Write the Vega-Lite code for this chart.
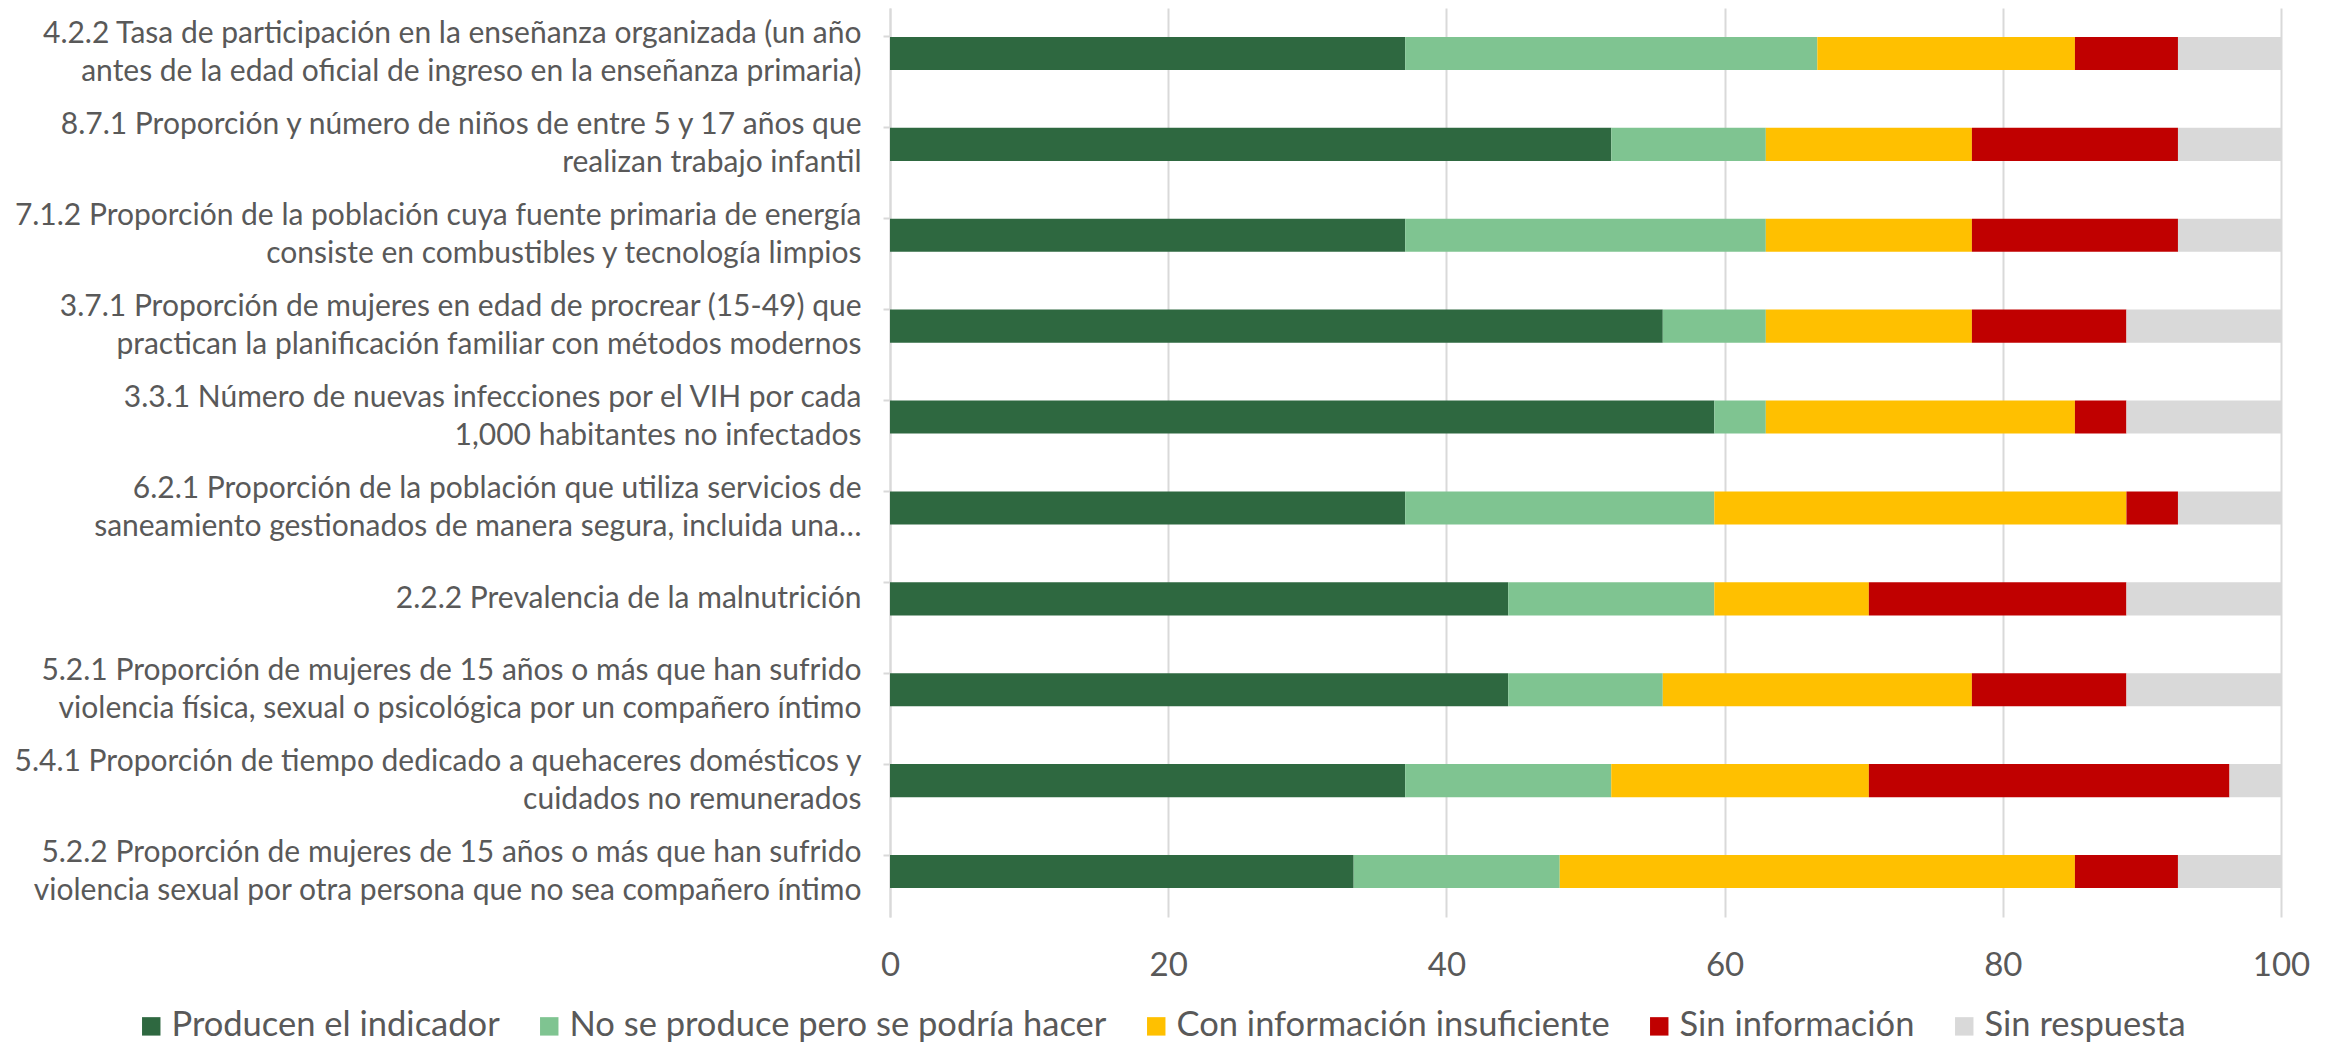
{
  "$schema": "https://vega.github.io/schema/vega-lite/v6.json",
  "autosize": {"type": "none"},
  "width": 1391,
  "height": 909,
  "padding": {"left": 890, "top": 8, "right": 55, "bottom": 125},
  "background": "white",
  "config": {
    "view": {"stroke": null},
    "font": "Lato",
    "axis": {"labelFont": "Lato", "labelColor": "#595959"},
    "legend": {"labelFont": "Lato", "labelColor": "#595959"}
  },
  "data": {
    "values": [
      {"i": "4.2.2 Tasa de participación en la enseñanza organizada (un año|antes de la edad oficial de ingreso en la enseñanza primaria)", "c": "Producen el indicador", "v": 37.037},
      {"i": "4.2.2 Tasa de participación en la enseñanza organizada (un año|antes de la edad oficial de ingreso en la enseñanza primaria)", "c": "No se produce pero se podría hacer", "v": 29.630},
      {"i": "4.2.2 Tasa de participación en la enseñanza organizada (un año|antes de la edad oficial de ingreso en la enseñanza primaria)", "c": "Con información insuficiente", "v": 18.519},
      {"i": "4.2.2 Tasa de participación en la enseñanza organizada (un año|antes de la edad oficial de ingreso en la enseñanza primaria)", "c": "Sin información", "v": 7.407},
      {"i": "4.2.2 Tasa de participación en la enseñanza organizada (un año|antes de la edad oficial de ingreso en la enseñanza primaria)", "c": "Sin  respuesta", "v": 7.407},
      {"i": "8.7.1 Proporción y número de niños de entre 5 y 17 años que|realizan trabajo infantil", "c": "Producen el indicador", "v": 51.852},
      {"i": "8.7.1 Proporción y número de niños de entre 5 y 17 años que|realizan trabajo infantil", "c": "No se produce pero se podría hacer", "v": 11.111},
      {"i": "8.7.1 Proporción y número de niños de entre 5 y 17 años que|realizan trabajo infantil", "c": "Con información insuficiente", "v": 14.815},
      {"i": "8.7.1 Proporción y número de niños de entre 5 y 17 años que|realizan trabajo infantil", "c": "Sin información", "v": 14.815},
      {"i": "8.7.1 Proporción y número de niños de entre 5 y 17 años que|realizan trabajo infantil", "c": "Sin  respuesta", "v": 7.407},
      {"i": "7.1.2 Proporción de la población cuya fuente primaria de energía|consiste en combustibles y tecnología limpios", "c": "Producen el indicador", "v": 37.037},
      {"i": "7.1.2 Proporción de la población cuya fuente primaria de energía|consiste en combustibles y tecnología limpios", "c": "No se produce pero se podría hacer", "v": 25.926},
      {"i": "7.1.2 Proporción de la población cuya fuente primaria de energía|consiste en combustibles y tecnología limpios", "c": "Con información insuficiente", "v": 14.815},
      {"i": "7.1.2 Proporción de la población cuya fuente primaria de energía|consiste en combustibles y tecnología limpios", "c": "Sin información", "v": 14.815},
      {"i": "7.1.2 Proporción de la población cuya fuente primaria de energía|consiste en combustibles y tecnología limpios", "c": "Sin  respuesta", "v": 7.407},
      {"i": "3.7.1 Proporción de mujeres en edad de procrear (15-49) que|practican la planificación familiar con métodos modernos", "c": "Producen el indicador", "v": 55.556},
      {"i": "3.7.1 Proporción de mujeres en edad de procrear (15-49) que|practican la planificación familiar con métodos modernos", "c": "No se produce pero se podría hacer", "v": 7.407},
      {"i": "3.7.1 Proporción de mujeres en edad de procrear (15-49) que|practican la planificación familiar con métodos modernos", "c": "Con información insuficiente", "v": 14.815},
      {"i": "3.7.1 Proporción de mujeres en edad de procrear (15-49) que|practican la planificación familiar con métodos modernos", "c": "Sin información", "v": 11.111},
      {"i": "3.7.1 Proporción de mujeres en edad de procrear (15-49) que|practican la planificación familiar con métodos modernos", "c": "Sin  respuesta", "v": 11.111},
      {"i": "3.3.1 Número de nuevas infecciones por el VIH por cada|1,000 habitantes no infectados", "c": "Producen el indicador", "v": 59.259},
      {"i": "3.3.1 Número de nuevas infecciones por el VIH por cada|1,000 habitantes no infectados", "c": "No se produce pero se podría hacer", "v": 3.704},
      {"i": "3.3.1 Número de nuevas infecciones por el VIH por cada|1,000 habitantes no infectados", "c": "Con información insuficiente", "v": 22.222},
      {"i": "3.3.1 Número de nuevas infecciones por el VIH por cada|1,000 habitantes no infectados", "c": "Sin información", "v": 3.704},
      {"i": "3.3.1 Número de nuevas infecciones por el VIH por cada|1,000 habitantes no infectados", "c": "Sin  respuesta", "v": 11.111},
      {"i": "6.2.1 Proporción de la población que utiliza servicios de|saneamiento gestionados de manera segura, incluida una…", "c": "Producen el indicador", "v": 37.037},
      {"i": "6.2.1 Proporción de la población que utiliza servicios de|saneamiento gestionados de manera segura, incluida una…", "c": "No se produce pero se podría hacer", "v": 22.222},
      {"i": "6.2.1 Proporción de la población que utiliza servicios de|saneamiento gestionados de manera segura, incluida una…", "c": "Con información insuficiente", "v": 29.630},
      {"i": "6.2.1 Proporción de la población que utiliza servicios de|saneamiento gestionados de manera segura, incluida una…", "c": "Sin información", "v": 3.704},
      {"i": "6.2.1 Proporción de la población que utiliza servicios de|saneamiento gestionados de manera segura, incluida una…", "c": "Sin  respuesta", "v": 7.407},
      {"i": "2.2.2 Prevalencia de la malnutrición", "c": "Producen el indicador", "v": 44.444},
      {"i": "2.2.2 Prevalencia de la malnutrición", "c": "No se produce pero se podría hacer", "v": 14.815},
      {"i": "2.2.2 Prevalencia de la malnutrición", "c": "Con información insuficiente", "v": 11.111},
      {"i": "2.2.2 Prevalencia de la malnutrición", "c": "Sin información", "v": 18.519},
      {"i": "2.2.2 Prevalencia de la malnutrición", "c": "Sin  respuesta", "v": 11.111},
      {"i": "5.2.1 Proporción de mujeres de 15 años o más que han sufrido|violencia física, sexual o psicológica  por un compañero íntimo", "c": "Producen el indicador", "v": 44.444},
      {"i": "5.2.1 Proporción de mujeres de 15 años o más que han sufrido|violencia física, sexual o psicológica  por un compañero íntimo", "c": "No se produce pero se podría hacer", "v": 11.111},
      {"i": "5.2.1 Proporción de mujeres de 15 años o más que han sufrido|violencia física, sexual o psicológica  por un compañero íntimo", "c": "Con información insuficiente", "v": 22.222},
      {"i": "5.2.1 Proporción de mujeres de 15 años o más que han sufrido|violencia física, sexual o psicológica  por un compañero íntimo", "c": "Sin información", "v": 11.111},
      {"i": "5.2.1 Proporción de mujeres de 15 años o más que han sufrido|violencia física, sexual o psicológica  por un compañero íntimo", "c": "Sin  respuesta", "v": 11.111},
      {"i": "5.4.1 Proporción de tiempo dedicado a quehaceres domésticos y|cuidados no remunerados", "c": "Producen el indicador", "v": 37.037},
      {"i": "5.4.1 Proporción de tiempo dedicado a quehaceres domésticos y|cuidados no remunerados", "c": "No se produce pero se podría hacer", "v": 14.815},
      {"i": "5.4.1 Proporción de tiempo dedicado a quehaceres domésticos y|cuidados no remunerados", "c": "Con información insuficiente", "v": 18.519},
      {"i": "5.4.1 Proporción de tiempo dedicado a quehaceres domésticos y|cuidados no remunerados", "c": "Sin información", "v": 25.926},
      {"i": "5.4.1 Proporción de tiempo dedicado a quehaceres domésticos y|cuidados no remunerados", "c": "Sin  respuesta", "v": 3.704},
      {"i": "5.2.2 Proporción de mujeres de 15 años o más que han sufrido|violencia sexual por otra persona que no sea  compañero íntimo", "c": "Producen el indicador", "v": 33.333},
      {"i": "5.2.2 Proporción de mujeres de 15 años o más que han sufrido|violencia sexual por otra persona que no sea  compañero íntimo", "c": "No se produce pero se podría hacer", "v": 14.815},
      {"i": "5.2.2 Proporción de mujeres de 15 años o más que han sufrido|violencia sexual por otra persona que no sea  compañero íntimo", "c": "Con información insuficiente", "v": 37.037},
      {"i": "5.2.2 Proporción de mujeres de 15 años o más que han sufrido|violencia sexual por otra persona que no sea  compañero íntimo", "c": "Sin información", "v": 7.407},
      {"i": "5.2.2 Proporción de mujeres de 15 años o más que han sufrido|violencia sexual por otra persona que no sea  compañero íntimo", "c": "Sin  respuesta", "v": 7.407}
    ]
  },
  "transform": [
    {"calculate": "indexof(['Producen el indicador', 'No se produce pero se podría hacer', 'Con información insuficiente', 'Sin información', 'Sin  respuesta'], datum.c)", "as": "orden"}
  ],
  "mark": {"type": "bar"},
  "encoding": {
    "y": {
      "field": "i",
      "type": "nominal",
      "sort": null,
      "title": null,
      "scale": {"paddingInner": 0.636, "paddingOuter": 0.318},
      "axis": {
        "labelExpr": "split(datum.label, '|')",
        "labelFontSize": 30,
        "labelLineHeight": 38,
        "labelLimit": 900,
        "labelPadding": 22,
        "labelOffset": {"expr": "indexof(datum.label, '|') >= 0 ? -19 : 0"},
        "bandPosition": 0,
        "tickSize": 7,
        "tickColor": "#D9D9D9",
        "tickWidth": 2,
        "domainColor": "#D9D9D9",
        "domainWidth": 2,
        "grid": false
      }
    },
    "x": {
      "field": "v",
      "type": "quantitative",
      "stack": "zero",
      "title": null,
      "scale": {"domain": [0, 100], "nice": false, "clamp": true},
      "axis": {
        "values": [0, 20, 40, 60, 80, 100],
        "labelFontSize": 33,
        "labelPadding": 32,
        "ticks": false,
        "domain": false,
        "grid": true,
        "gridColor": "#D9D9D9",
        "gridWidth": 2,
        "labelFlush": false
      }
    },
    "order": {"field": "orden", "type": "quantitative", "sort": "ascending"},
    "color": {
      "field": "c",
      "type": "nominal",
      "sort": ["Producen el indicador", "No se produce pero se podría hacer", "Con información insuficiente", "Sin información", "Sin  respuesta"],
      "scale": {
        "domain": ["Producen el indicador", "No se produce pero se podría hacer", "Con información insuficiente", "Sin información", "Sin  respuesta"],
        "range": ["#2E6840", "#7FC491", "#FFC000", "#C00000", "#D9D9D9"]
      },
      "legend": {
        "title": null,
        "orient": "none",
        "legendX": -756,
        "legendY": 1001,
        "direction": "horizontal",
        "symbolType": "square",
        "symbolSize": 340,
        "symbolStrokeWidth": 0,
        "labelFontSize": 34.5,
        "labelOffset": 3,
        "columnPadding": 32,
        "labelLimit": 900
      }
    }
  }
}
